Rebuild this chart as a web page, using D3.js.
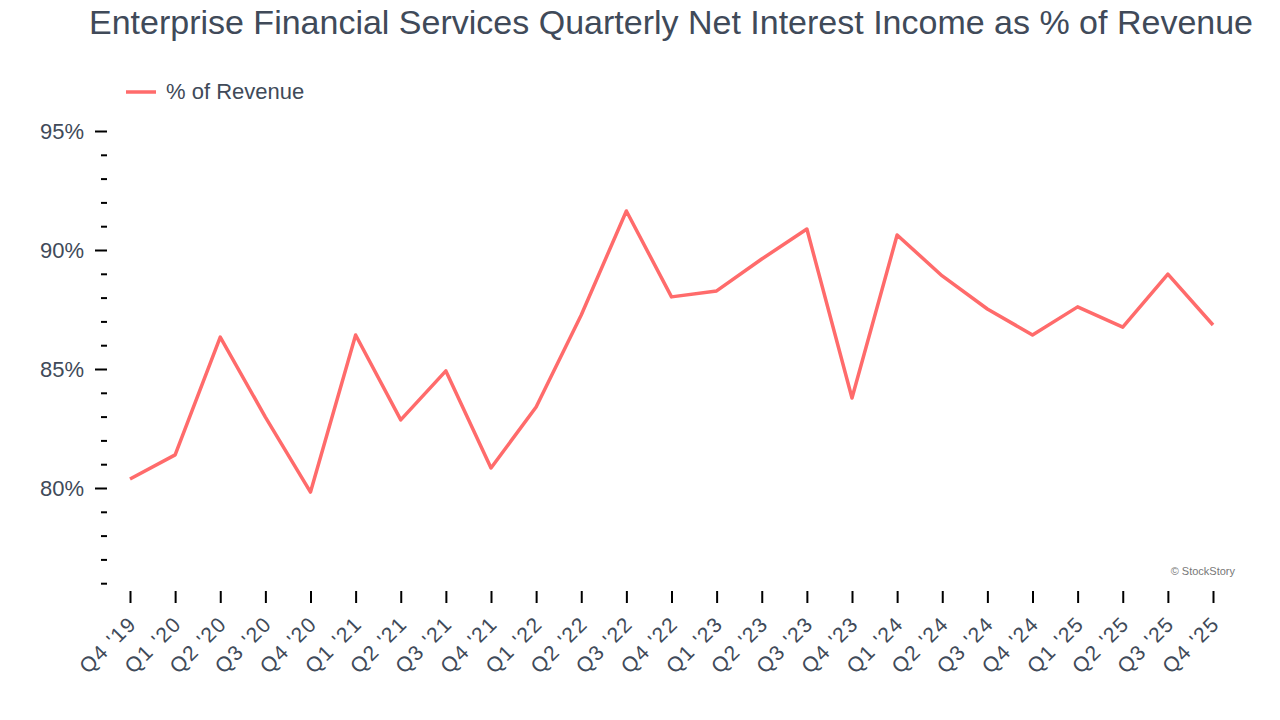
<!DOCTYPE html>
<html>
<head>
<meta charset="utf-8">
<script src="https://cdn.jsdelivr.net/npm/d3@7"></script>
<style>
  body { margin: 0; background: #fff; }
  svg { display: block; font-family: "Liberation Sans", Arial, sans-serif; }
</style>
</head>
<body>
<svg id="chart" width="1280" height="720"></svg>
<script>
// Data
const quarters = ["Q4 '19", "Q1 '20", "Q2 '20", "Q3 '20", "Q4 '20", "Q1 '21", "Q2 '21", "Q3 '21", "Q4 '21",
  "Q1 '22", "Q2 '22", "Q3 '22", "Q4 '22", "Q1 '23", "Q2 '23", "Q3 '23", "Q4 '23",
  "Q1 '24", "Q2 '24", "Q3 '24", "Q4 '24", "Q1 '25", "Q2 '25", "Q3 '25", "Q4 '25"];
const pctOfRevenue = [80.38, 81.39, 86.34, 82.98, 79.83, 86.43, 82.86, 84.92, 80.84,
  83.40, 87.27, 91.64, 88.03, 88.28, 89.62, 90.88, 83.78,
  90.63, 88.91, 87.52, 86.43, 87.61, 86.76, 88.99, 86.85];
const majorTicks = [80, 85, 90, 95];
const minorTicks = [76, 77, 78, 79, 81, 82, 83, 84, 86, 87, 88, 89, 91, 92, 93, 94];

const svg = d3.select('#chart');
const textColor = '#404a59';
const lineColor = '#ff6b6b';

// Scales
const x = d3.scalePoint().domain(quarters).range([130, 1213]);
const y = d3.scaleLinear().domain([80, 95]).range([488, 131]);

// Title
svg.append('text')
  .attr('x', 671).attr('y', 34)
  .attr('text-anchor', 'middle')
  .attr('fill', textColor)
  .style('font-size', '34px')
  .text('Enterprise Financial Services Quarterly Net Interest Income as % of Revenue');

// Legend
svg.append('line')
  .attr('x1', 126).attr('x2', 156).attr('y1', 92).attr('y2', 92)
  .attr('stroke', lineColor).attr('stroke-width', 3.5);
svg.append('text')
  .attr('x', 166).attr('y', 99)
  .attr('fill', textColor)
  .style('font-size', '22px')
  .text('% of Revenue');

// Y axis
const yAxis = svg.append('g').attr('transform', 'translate(107,0)');
yAxis.call(d3.axisLeft(y).tickValues(majorTicks).tickSize(12).tickPadding(11).tickFormat(d => d + '%'))
  .call(g => g.select('.domain').remove());
yAxis.selectAll('.tick line').attr('stroke', '#000').attr('stroke-width', 2);
yAxis.selectAll('.tick text').attr('fill', textColor).style('font-size', '22px');

const yMinor = svg.append('g').attr('transform', 'translate(107,0)');
yMinor.call(d3.axisLeft(y).tickValues(minorTicks).tickSize(6).tickFormat(''))
  .call(g => g.select('.domain').remove());
yMinor.selectAll('.tick line').attr('stroke', '#000').attr('stroke-width', 2);

// X axis
const xAxis = svg.append('g').attr('transform', 'translate(0,591)');
xAxis.call(d3.axisBottom(x).tickSize(12))
  .call(g => g.select('.domain').remove());
xAxis.selectAll('.tick line').attr('stroke', '#000').attr('stroke-width', 2);
xAxis.selectAll('.tick text')
  .attr('fill', textColor)
  .style('font-size', '21px')
  .style('letter-spacing', '1.5px')
  .attr('text-anchor', 'end')
  .attr('x', 0).attr('y', 0)
  .attr('dy', '0.35em')
  .attr('transform', 'translate(2,29) rotate(-45)');

// Line
const line = d3.line()
  .x((d, i) => x(quarters[i]))
  .y(d => y(d));

svg.append('path')
  .datum(pctOfRevenue)
  .attr('fill', 'none')
  .attr('stroke', lineColor)
  .attr('stroke-width', 3.5)
  .attr('stroke-linejoin', 'round')
  .attr('d', line);

// Credit
svg.append('text')
  .attr('x', 1235).attr('y', 575)
  .attr('text-anchor', 'end')
  .attr('fill', '#777')
  .style('font-size', '11px')
  .text('© StockStory');
</script>
</body>
</html>
